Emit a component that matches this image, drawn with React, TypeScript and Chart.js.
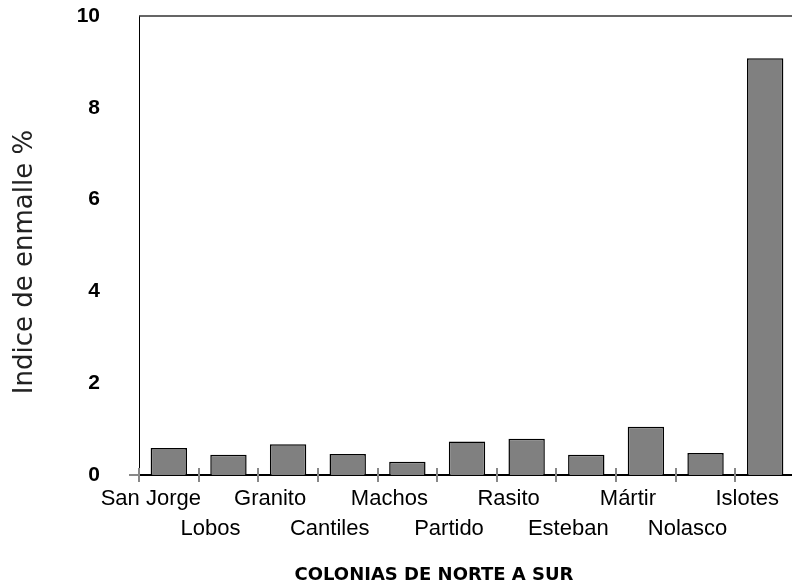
import React, { useEffect, useRef } from "react";
import { Chart, registerables } from "chart.js";

Chart.register(...registerables);

const categories = [
  "San Jorge",
  "Lobos",
  "Granito",
  "Cantiles",
  "Machos",
  "Partido",
  "Rasito",
  "Esteban",
  "Mártir",
  "Nolasco",
  "Islotes",
];
const values = [0.59, 0.44, 0.67, 0.46, 0.29, 0.73, 0.79, 0.44, 1.05, 0.48, 9.08];
const yTicks = [0, 2, 4, 6, 8, 10];
const yTitle = "Indice de enmalle %";
const xTitle = "COLONIAS DE NORTE A SUR";

const decorPlugin = {
  id: "decor",
  afterDraw(chart: any) {
    const { ctx, chartArea } = chart;
    const xs = chart.scales.x;
    const n = categories.length;
    ctx.save();
    // frame top/right
    ctx.strokeStyle = "#333";
    ctx.lineWidth = 1.5;
    ctx.beginPath();
    ctx.moveTo(chartArea.left, chartArea.top);
    ctx.lineTo(chartArea.right, chartArea.top);
    ctx.lineTo(chartArea.right, chartArea.bottom);
    ctx.stroke();
    // cross ticks on x axis at category boundaries
    ctx.strokeStyle = "#888";
    ctx.lineWidth = 2;
    const step = xs.width / n;
    for (let i = 0; i <= n; i++) {
      const x = Math.round(xs.left + i * step);
      ctx.beginPath();
      ctx.moveTo(x, chartArea.bottom - 7);
      ctx.lineTo(x, chartArea.bottom + 7);
      ctx.stroke();
    }
    ctx.beginPath();
    ctx.moveTo(chartArea.left - 10, chartArea.bottom);
    ctx.lineTo(chartArea.left, chartArea.bottom);
    ctx.stroke();
    // axis titles
    ctx.fillStyle = "#222";
    ctx.textAlign = "center";
    ctx.textBaseline = "middle";
    ctx.font = "26px 'DejaVu Sans'";
    ctx.save();
    ctx.translate(25, 262);
    ctx.rotate(-Math.PI / 2);
    ctx.fillText(yTitle, 0, 0);
    ctx.restore();
    ctx.fillStyle = "#000";
    ctx.font = "bold 18px 'DejaVu Sans'";
    ctx.fillText(xTitle, 434, 575);
    ctx.restore();
  },
};

export default function App() {
  const ref = useRef<HTMLCanvasElement>(null);
  useEffect(() => {
    if (!ref.current) return;
    const labels = categories.map((c, i) => (i % 2 === 0 ? [c, ""] : ["", c]));
    const chart = new Chart(ref.current, {
      type: "bar",
      data: {
        labels,
        datasets: [
          {
            data: values,
            backgroundColor: "#808080",
            borderColor: "#000",
            borderWidth: 1.5,
            barPercentage: 0.61,
            categoryPercentage: 1,
          },
        ],
      },
      options: {
        responsive: false,
        animation: false,
        layout: { padding: { top: 16, right: 5, left: 0, bottom: 0 } },
        plugins: { legend: { display: false }, tooltip: { enabled: false }, title: { display: false } },
        scales: {
          x: {
            offset: true,
            grid: { display: false, drawTicks: false },
            border: { display: true, color: "#000", width: 2 },
            ticks: {
              autoSkip: false,
              maxRotation: 0,
              minRotation: 0,
              padding: 9,
              labelOffset: -18,
              color: "#000",
              font: { family: "'Liberation Sans', Arial", size: 22, lineHeight: "30px" },
            },
            afterFit(scale: any) {
              scale.height = 113;
              scale.paddingLeft = 0;
              scale.paddingRight = 0;
            },
          },
          y: {
            min: 0,
            max: 10,
            grid: { display: false, drawTicks: false },
            border: { display: true, color: "#000", width: 1 },
            afterBuildTicks(scale: any) {
              scale.ticks = yTicks.map((v) => ({ value: v }));
            },
            ticks: {
              padding: 39,
              color: "#000",
              font: { family: "'Liberation Sans', Arial", size: 21, weight: "bold" },
            },
            afterFit(scale: any) {
              scale.width = 139;
              scale.paddingTop = 0;
              scale.paddingBottom = 0;
            },
          },
        },
      },
      plugins: [decorPlugin],
    });
    return () => chart.destroy();
  }, []);
  return (
    <div style={{ position: "absolute", left: 0, top: 0, width: 792, height: 588, overflow: "hidden", background: "#fff" }}>
      <canvas ref={ref} width={800} height={588} style={{ display: "block" }} />
    </div>
  );
}
